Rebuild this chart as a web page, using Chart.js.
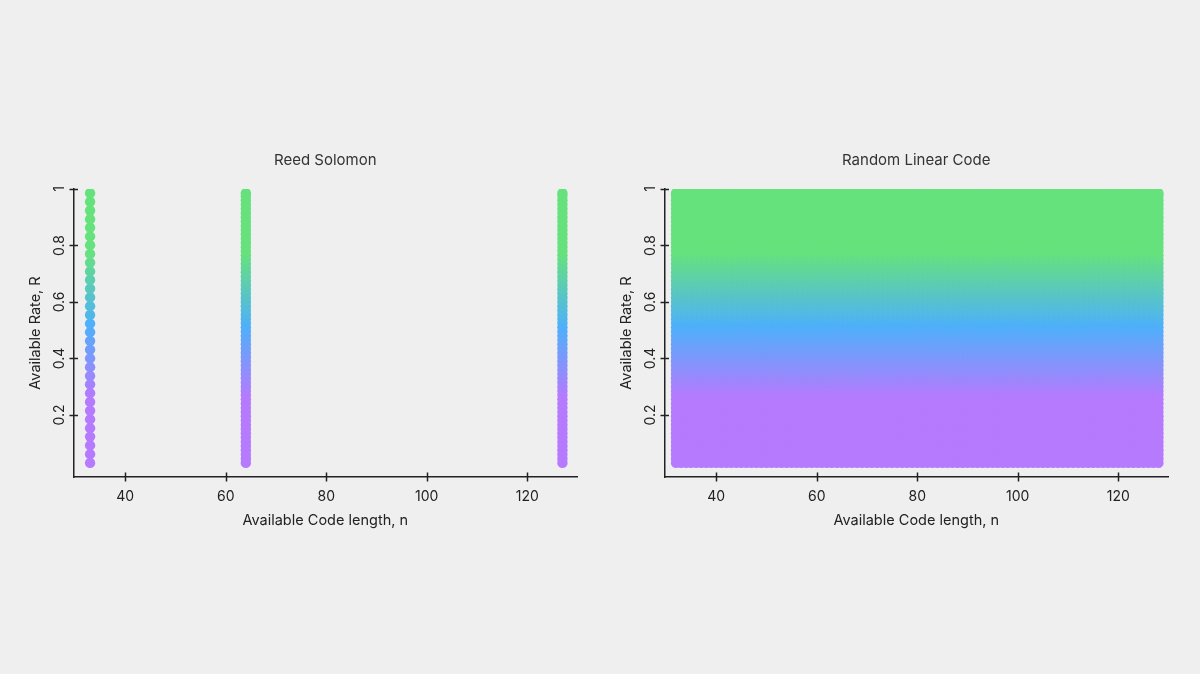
<!DOCTYPE html>
<html>
<head>
<meta charset="utf-8">
<script src="https://cdn.jsdelivr.net/npm/chart.js@4.4.1/dist/chart.umd.min.js"></script>
<style>
  html, body { margin: 0; padding: 0; background: #efefef; }
  body { width: 1200px; height: 674px; position: relative; overflow: hidden; }
  .plot { position: absolute; top: 120px; width: 600px; height: 440px; }
</style>
</head>
<body>
<div class="plot" style="left: 0px;"><canvas id="rsChart"></canvas></div>
<div class="plot" style="left: 591px;"><canvas id="rlcChart"></canvas></div>

<script>
// ---- data ----
const xTicks = [40, 60, 80, 100, 120];
const yTicks = [0.2, 0.4, 0.6, 0.8, 1];

// Reed Solomon: only three code lengths are available
const rsLengths = [33, 64, 127];
// rates for the short code (dots visibly separate)
const rsRatesShort = [0.030, 0.061, 0.092, 0.123, 0.153, 0.184, 0.215, 0.246, 0.277, 0.308,
  0.338, 0.369, 0.400, 0.431, 0.462, 0.493, 0.523, 0.554, 0.585, 0.616,
  0.647, 0.678, 0.708, 0.739, 0.770, 0.801, 0.832, 0.863, 0.893, 0.924, 0.955, 0.985];
// rates for the longer codes (dots merge into a bar)
const denseRates = [0.030, 0.045, 0.060, 0.075, 0.090, 0.105, 0.120, 0.135, 0.150, 0.165,
  0.180, 0.195, 0.210, 0.225, 0.240, 0.255, 0.270, 0.285, 0.300, 0.315,
  0.330, 0.345, 0.360, 0.375, 0.390, 0.405, 0.420, 0.435, 0.450, 0.465,
  0.480, 0.495, 0.510, 0.525, 0.540, 0.555, 0.570, 0.585, 0.600, 0.615,
  0.630, 0.645, 0.660, 0.675, 0.690, 0.705, 0.720, 0.735, 0.750, 0.765,
  0.780, 0.795, 0.810, 0.825, 0.840, 0.855, 0.870, 0.885, 0.900, 0.915,
  0.930, 0.945, 0.960, 0.975, 0.985];

// Random linear code: every length from 32 to 128
const rlcLengths = [32, 33, 34, 35, 36, 37, 38, 39, 40, 41, 42, 43, 44, 45, 46, 47, 48, 49,
  50, 51, 52, 53, 54, 55, 56, 57, 58, 59, 60, 61, 62, 63, 64, 65, 66, 67, 68, 69,
  70, 71, 72, 73, 74, 75, 76, 77, 78, 79, 80, 81, 82, 83, 84, 85, 86, 87, 88, 89,
  90, 91, 92, 93, 94, 95, 96, 97, 98, 99, 100, 101, 102, 103, 104, 105, 106, 107, 108, 109,
  110, 111, 112, 113, 114, 115, 116, 117, 118, 119, 120, 121, 122, 123, 124, 125, 126, 127, 128];

// ---- colour by rate: purple -> blue -> green ----
const colorStops = [
  { r: 0.27, c: [181, 122, 254] },
  { r: 0.52, c: [78, 176, 250] },
  { r: 0.78, c: [102, 226, 125] }
];
function rateColor(rate) {
  if (rate <= colorStops[0].r) return `rgb(${colorStops[0].c.join(',')})`;
  const last = colorStops[colorStops.length - 1];
  if (rate >= last.r) return `rgb(${last.c.join(',')})`;
  for (let i = 0; i < colorStops.length - 1; i++) {
    const a = colorStops[i], b = colorStops[i + 1];
    if (rate <= b.r) {
      const t = (rate - a.r) / (b.r - a.r);
      const c = a.c.map((v, k) => Math.round(v + (b.c[k] - v) * t));
      return `rgb(${c.join(',')})`;
    }
  }
}

function buildPoints(lengths, ratesFor) {
  const pts = [];
  lengths.forEach(n => ratesFor(n).forEach(r => pts.push({ x: n, y: r })));
  return pts;
}

const rsPoints = buildPoints(rsLengths, n => (n === rsLengths[0] ? rsRatesShort : denseRates));
const rlcPoints = buildPoints(rlcLengths, () => denseRates);

const FONT = 'Inter, "Liberation Sans", Arial, sans-serif';

// ---- tick marks that cross the axis line ----
const crossTicks = {
  id: 'crossTicks',
  afterDraw(chart) {
    const { ctx, chartArea, scales } = chart;
    ctx.save();
    ctx.strokeStyle = '#222';
    ctx.lineWidth = 1.5;
    ctx.beginPath();
    scales.x.ticks.forEach((t, i) => {
      const px = Math.round(scales.x.getPixelForTick(i)) + 0.5;
      ctx.moveTo(px, chartArea.bottom - 4.5);
      ctx.lineTo(px, chartArea.bottom + 4.5);
    });
    scales.y.ticks.forEach((t, i) => {
      const py = Math.round(scales.y.getPixelForTick(i)) + 0.5;
      ctx.moveTo(chartArea.left - 4, py);
      ctx.lineTo(chartArea.left + 4.5, py);
    });
    ctx.stroke();
    ctx.restore();
  }
};

// title centred over the plot area (not the whole canvas)
const areaTitle = {
  id: 'areaTitle',
  afterDraw(chart, args, opts) {
    const { ctx, chartArea } = chart;
    ctx.save();
    ctx.fillStyle = '#333';
    ctx.font = `15px ${FONT}`;
    ctx.textAlign = 'center';
    ctx.textBaseline = 'middle';
    ctx.fillText(opts.text, (chartArea.left + chartArea.right) / 2, chartArea.top - 29);
    ctx.restore();
  }
};

function makeChart(id, title, points) {
  return new Chart(document.getElementById(id), {
    type: 'scatter',
    data: {
      datasets: [{
        data: points,
        pointRadius: 5.2,
        pointHoverRadius: 5.2,
        pointBorderWidth: 0,
        pointBackgroundColor: c => rateColor(c.raw ? c.raw.y : 0.5)
      }]
    },
    options: {
      responsive: true,
      maintainAspectRatio: false,
      animation: false,
      events: [],
      layout: { padding: { top: 69, right: 23, bottom: 0, left: 0 } },
      plugins: {
        legend: { display: false },
        tooltip: { enabled: false },
        title: { display: false },
        areaTitle: { text: title }
      },
      scales: {
        x: {
          type: 'linear',
          min: 29.7,
          max: 129.9,
          afterBuildTicks: s => { s.ticks = xTicks.map(v => ({ value: v })); },
          afterFit: s => { s.height = 83; },
          grid: { display: false, drawTicks: false },
          border: { display: true, color: '#222', width: 1.5 },
          ticks: {
            color: '#222',
            padding: 11,
            font: { family: FONT, size: 14 },
            callback: v => String(v)
          },
          title: {
            display: true,
            text: 'Available Code length, n',
            color: '#222',
            font: { family: FONT, size: 14.5, lineHeight: 1.2 },
            padding: { top: 0, bottom: 31 }
          }
        },
        y: {
          type: 'linear',
          min: -0.02,
          max: 1,
          afterBuildTicks: s => { s.ticks = yTicks.map(v => ({ value: v })); },
          afterFit: s => { s.width = 73.5; },
          grid: { display: false, drawTicks: false },
          border: { display: true, color: '#222', width: 1.5 },
          ticks: {
            color: '#222',
            padding: 3,
            minRotation: 90,
            maxRotation: 90,
            crossAlign: 'center',
            font: { family: FONT, size: 14 },
            callback: v => String(v)
          },
          title: {
            display: true,
            text: 'Available Rate, R',
            color: '#222',
            font: { family: FONT, size: 14.5, lineHeight: 1.2 },
            padding: { top: 27, bottom: 0 }
          }
        }
      }
    },
    plugins: [crossTicks, areaTitle]
  });
}

makeChart('rsChart', 'Reed Solomon', rsPoints);
makeChart('rlcChart', 'Random Linear Code', rlcPoints);
</script>
</body>
</html>
